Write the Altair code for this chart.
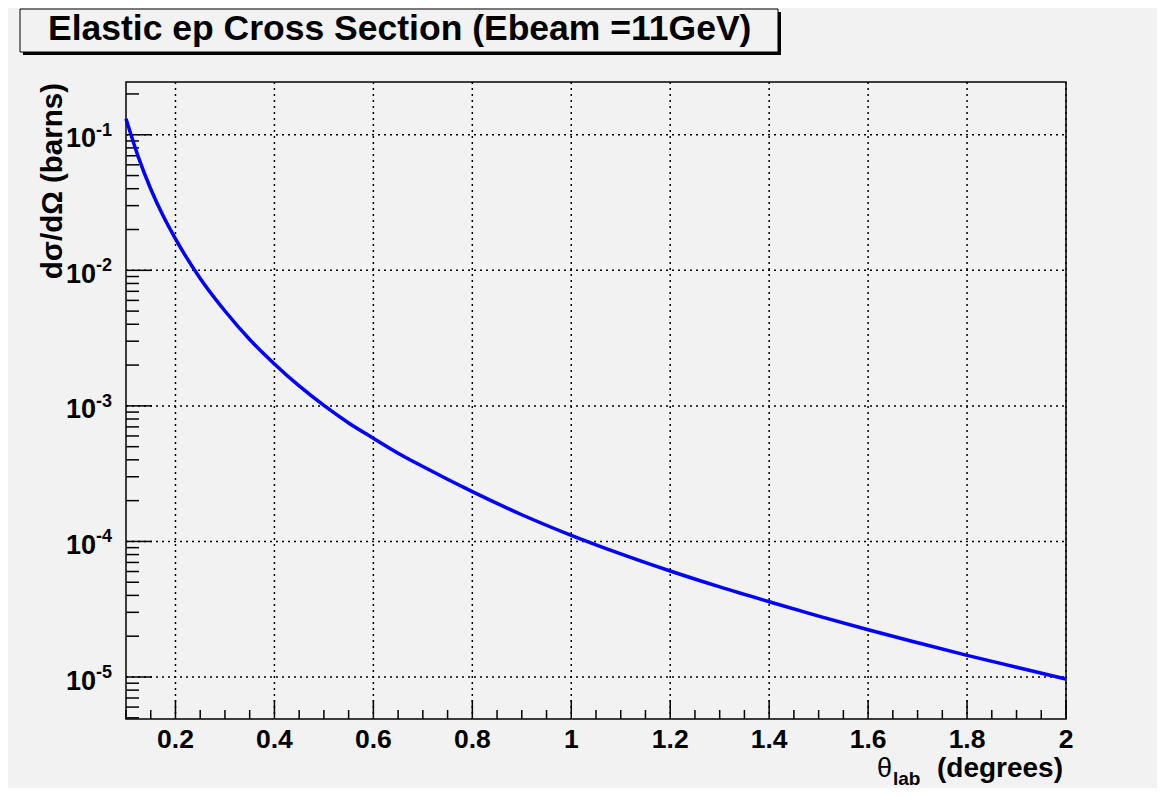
import altair as alt
import pandas as pd

# ---- data ----
theta_deg = [0.10, 0.125, 0.15, 0.175, 0.20, 0.25, 0.30, 0.35, 0.40, 0.45,
             0.50, 0.55, 0.60, 0.65, 0.70, 0.80, 0.90, 1.00, 1.10, 1.20,
             1.30, 1.40, 1.50, 1.60, 1.70, 1.80, 1.90, 2.00]
xsec_barns = [0.1312, 0.0684, 0.0398, 0.02523, 0.01706, 0.00871, 0.00501, 0.00309,
              0.00204, 0.001403, 0.001007, 7.48e-4, 5.77e-4, 4.48e-4, 3.57e-4,
              2.33e-4, 1.574e-4, 1.109e-4, 8.09e-5, 6.05e-5, 4.62e-5, 3.59e-5,
              2.81e-5, 2.23e-5, 1.79e-5, 1.445e-5, 1.18e-5, 9.66e-6]

x_major_ticks = [0.2, 0.4, 0.6, 0.8, 1.0, 1.2, 1.4, 1.6, 1.8, 2.0]
x_tick_labels = ["0.2", "0.4", "0.6", "0.8", "1", "1.2", "1.4", "1.6", "1.8", "2"]
x_minor_ticks = [0.1, 0.15, 0.25, 0.3, 0.35, 0.45, 0.5, 0.55, 0.65, 0.7, 0.75,
                 0.85, 0.9, 0.95, 1.05, 1.1, 1.15, 1.25, 1.3, 1.35, 1.45, 1.5,
                 1.55, 1.65, 1.7, 1.75, 1.85, 1.9, 1.95]
y_major_ticks = [1e-5, 1e-4, 1e-3, 1e-2, 1e-1]
y_exponents = ["-5", "-4", "-3", "-2", "-1"]

X_DOMAIN = [0.1, 2.0]
Y_DOMAIN = [4.9e-6, 0.245]

title_text = "Elastic ep Cross Section (Ebeam =11GeV)"
y_title = "dσ/dΩ (barns)"

W, H = 940, 637
FONT = "Liberation Sans"

y_minor_ticks = [m * 10.0 ** k for k in range(-6, 0) for m in range(2, 10)
                 if Y_DOMAIN[0] <= m * 10.0 ** k <= Y_DOMAIN[1]]

curve = pd.DataFrame({"theta": theta_deg, "xsec": xsec_barns})
ymaj = pd.DataFrame({"value": y_major_ticks, "exp": y_exponents})
ymin = pd.DataFrame({"value": y_minor_ticks})
xmaj = pd.DataFrame({"value": x_major_ticks, "label": x_tick_labels})
xmin = pd.DataFrame({"value": x_minor_ticks})
one = pd.DataFrame({"a": [0]})

xs = alt.Scale(domain=X_DOMAIN, nice=False, zero=False)
ys = alt.Scale(type="log", domain=Y_DOMAIN, nice=False)


def X(field):
    return alt.X(field, type="quantitative", scale=xs, axis=None)


def Y(field):
    return alt.Y(field, type="quantitative", scale=ys, axis=None)


grid_kw = dict(color="black", strokeWidth=1.5, strokeDash=[2, 4])
xgrid = alt.Chart(xmaj).mark_rule(**grid_kw).encode(x=X("value"), y=alt.value(0), y2=alt.value(H))
ygrid = alt.Chart(ymaj).mark_rule(**grid_kw).encode(y=Y("value"), x=alt.value(0), x2=alt.value(W))

line = alt.Chart(curve).mark_line(color="#0000ff", strokeWidth=3.5, interpolate="monotone").encode(
    x=X("theta"), y=Y("xsec"))

tick_kw = dict(color="black", strokeWidth=1.5)
ymaj_ticks = alt.Chart(ymaj).mark_rule(**tick_kw).encode(y=Y("value"), x=alt.value(0), x2=alt.value(26))
ymin_ticks = alt.Chart(ymin).mark_rule(**tick_kw).encode(y=Y("value"), x=alt.value(0), x2=alt.value(13))
xmaj_ticks = alt.Chart(xmaj).mark_rule(**tick_kw).encode(x=X("value"), y=alt.value(H), y2=alt.value(H - 19))
xmin_ticks = alt.Chart(xmin).mark_rule(**tick_kw).encode(x=X("value"), y=alt.value(H), y2=alt.value(H - 9))

xlabels = alt.Chart(xmaj).mark_text(align="center", baseline="alphabetic", font=FONT, fontSize=26.5,
                                    fontWeight="bold", color="black").encode(
    x=X("value"), y=alt.value(H + 29), text="label:N")

tens = alt.Chart(ymaj).mark_text(align="right", baseline="alphabetic", dy=12.5, font=FONT,
                                 fontSize=27, fontWeight="bold", color="black").encode(
    y=Y("value"), x=alt.value(-30), text=alt.value("10"))
sups = alt.Chart(ymaj).mark_text(align="left", baseline="alphabetic", dy=1, font=FONT,
                                 fontSize=18, fontWeight="bold", color="black").encode(
    y=Y("value"), x=alt.value(-30), text="exp:N")

ytitle = alt.Chart(one).mark_text(align="right", baseline="alphabetic", angle=270, font=FONT,
                                  fontSize=29.5, fontWeight="bold", color="black").encode(
    x=alt.value(-64), y=alt.value(1), text=alt.value(y_title))

xt_theta = alt.Chart(one).mark_text(align="left", baseline="alphabetic", font=FONT,
                                    fontSize=27, color="black").encode(
    x=alt.value(751), y=alt.value(H + 58), text=alt.value("θ"))
xt_sub = alt.Chart(one).mark_text(align="left", baseline="alphabetic", font=FONT,
                                  fontSize=19, fontWeight="bold", color="black").encode(
    x=alt.value(767), y=alt.value(H + 66), text=alt.value("lab"))
xt_rest = alt.Chart(one).mark_text(align="right", baseline="alphabetic", font=FONT,
                                   fontSize=28, fontWeight="bold", color="black").encode(
    x=alt.value(937), y=alt.value(H + 58), text=alt.value("(degrees)"))

shadow = alt.Chart(one).mark_rect(color="black").encode(
    x=alt.value(-103), x2=alt.value(655), y=alt.value(-70), y2=alt.value(-27))
box = alt.Chart(one).mark_rect(fill="#f2f2f2", stroke="black", strokeWidth=1).encode(
    x=alt.value(-106), x2=alt.value(652), y=alt.value(-73), y2=alt.value(-30))
title = alt.Chart(one).mark_text(align="left", baseline="alphabetic", font=FONT,
                                 fontSize=35.5, fontWeight="bold", color="black").encode(
    x=alt.value(-78), y=alt.value(-42), text=alt.value(title_text))

chart = alt.layer(
    xgrid, ygrid, ymaj_ticks, ymin_ticks, xmaj_ticks, xmin_ticks, line,
    xlabels, tens, sups, ytitle, xt_theta, xt_sub, xt_rest, shadow, box, title,
).properties(
    width=W, height=H,
    padding={"left": 118, "top": 74, "right": 91, "bottom": 69},
    autosize=alt.AutoSizeParams(type="none"),
    background="#f2f2f2",
).configure_view(stroke="black", strokeWidth=1.5)

chart.save("out.html", embed_options={"renderer": "svg", "actions": False})
